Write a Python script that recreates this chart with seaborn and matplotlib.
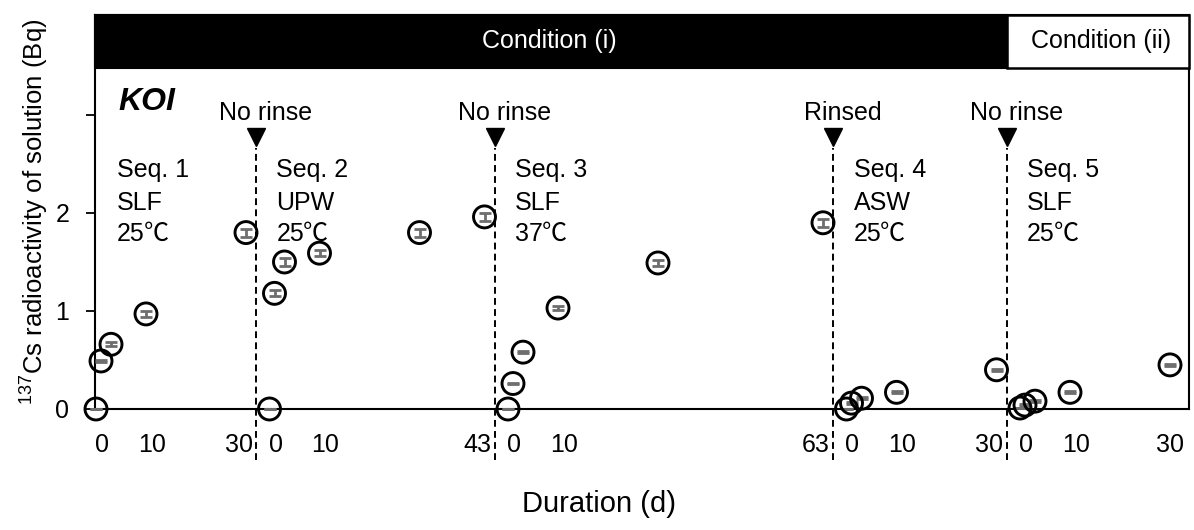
import numpy as np
import pandas as pd
import matplotlib.pyplot as plt
import matplotlib.transforms as mtransforms
from matplotlib.patches import Rectangle
import seaborn as sns

# five sequences, day within sequence vs 137Cs in solution (Bq)
seq_names = ["Seq. 1", "Seq. 2", "Seq. 3", "Seq. 4", "Seq. 5"]
seq_solution = ["SLF", "UPW", "SLF", "ASW", "SLF"]
seq_temp = ["25", "25", "37", "25", "25"]
seq_length = [30, 43, 63, 30, 30]
rinse_labels = ["No rinse", "No rinse", "Rinsed", "No rinse"]

days_1 = [0, 1, 3, 10, 30]
bq_1 = [0.0, 0.49, 0.66, 0.97, 1.80]
err_1 = [0.0, 0.01, 0.02, 0.03, 0.04]

days_2 = [0, 1, 3, 10, 30, 43]
bq_2 = [0.0, 1.18, 1.50, 1.59, 1.80, 1.96]
err_2 = [0.0, 0.03, 0.04, 0.03, 0.04, 0.04]

days_3 = [0, 1, 3, 10, 30, 63]
bq_3 = [0.0, 0.26, 0.58, 1.03, 1.49, 1.90]
err_3 = [0.0, 0.01, 0.01, 0.02, 0.03, 0.04]

days_4 = [0, 1, 3, 10, 30]
bq_4 = [0.0, 0.06, 0.11, 0.17, 0.40]
err_4 = [0.0, 0.01, 0.01, 0.01, 0.01]

days_5 = [0, 1, 3, 10, 30]
bq_5 = [0.01, 0.04, 0.08, 0.17, 0.45]
err_5 = [0.0, 0.01, 0.01, 0.01, 0.01]

all_days = [days_1, days_2, days_3, days_4, days_5]
all_bq = [bq_1, bq_2, bq_3, bq_4, bq_5]
all_err = [err_1, err_2, err_3, err_4, err_5]

# sequences are laid end to end with a small gap between them
gap = 4.7
offsets = np.concatenate([[0], np.cumsum(np.array(seq_length[:-1]) + gap)])
boundaries = offsets[1:] - 2.7

rows = []
for i in range(5):
    for d, b, e in zip(all_days[i], all_bq[i], all_err[i]):
        rows.append({"seq": seq_names[i], "x": offsets[i] + d, "bq": b, "err": e})
df = pd.DataFrame(rows)

sns.set_style("ticks")
plt.rcParams["font.family"] = ["Liberation Sans", "Noto Sans CJK JP", "DejaVu Sans"]
plt.rcParams["mathtext.default"] = "regular"
for key in ["text.color", "axes.labelcolor", "xtick.color", "ytick.color",
            "xtick.labelcolor", "ytick.labelcolor"]:
    plt.rcParams[key] = "black"

fig = plt.figure(figsize=(11.94, 5.30), dpi=100)
ax = fig.add_axes([95 / 1194, 121 / 530, 1094 / 1194, 394 / 530])

ax.errorbar(df["x"], df["bq"], yerr=df["err"], fmt="none", ecolor="#6e6e6e",
            elinewidth=2, capsize=4.5, capthick=2, clip_on=False, zorder=3)
sns.scatterplot(data=df, x="x", y="bq", ax=ax, marker="o", s=250,
                facecolor="none", edgecolor="black", linewidth=2.1,
                clip_on=False, zorder=4, legend=False)

ax.set_xlim(-0.2, 218.6)
ax.set_ylim(0, 4.02)

# dashed separators, arrows and rinse notes
for b, lab in zip(boundaries, rinse_labels):
    ax.plot([b, b], [-0.52, 2.66], ls=(0, (3.5, 2.2)), color="black", lw=1.4,
            clip_on=False, zorder=2)
    ax.plot([b], [2.78], marker="v", ms=13, color="black", zorder=5)
    ax.text(b + 2, 2.95, lab, ha="center", va="baseline", fontsize=18)

# sequence descriptions
text_x = [4.2] + list(offsets[1:] + 1.4)
for i in range(5):
    for yy, s in zip([2.37, 2.03], [seq_names[i], seq_solution[i]]):
        ax.text(text_x[i], yy, s, ha="left", va="baseline", fontsize=18)
    t = ax.text(text_x[i], 1.71, seq_temp[i], ha="left", va="baseline", fontsize=18)
    # full-width degree sign as in the original
    ax.annotate("℃", xy=(1, 0), xycoords=t, xytext=(-1, 0), textcoords="offset points",
                ha="left", va="bottom", fontsize=18, family=["Noto Sans CJK JP"])

ax.text(4.4, 3.05, "KOI", fontsize=23, fontweight="bold", fontstyle="italic",
        ha="left", va="baseline")

# condition bar across the top
trans = mtransforms.blended_transform_factory(ax.transData, ax.transAxes)
bar_y = 0.8655
ax.add_patch(Rectangle((-0.2, bar_y), boundaries[-1] + 0.2, 1 - bar_y, transform=trans,
                       facecolor="black", edgecolor="black", lw=1.5, clip_on=False, zorder=6))
ax.add_patch(Rectangle((boundaries[-1], bar_y), 218.6 - boundaries[-1], 1 - bar_y,
                       transform=trans, facecolor="white", edgecolor="black", lw=1.8,
                       clip_on=False, zorder=6))
ax.text(90.6, 0.933, "Condition (i)", transform=trans, color="white", fontsize=18,
        ha="center", va="center", zorder=7)
ax.text(201.0, 0.933, "Condition (ii)", transform=trans, color="black", fontsize=18,
        ha="center", va="center", zorder=7)

# x tick labels per sequence
tick_pos, tick_lab = [], []
for i in range(5):
    tick_pos += [offsets[i] + 1.2, offsets[i] + 11.2]
    tick_lab += ["0", "10"]
    if i < 4:
        tick_pos.append(boundaries[i] - 3.5)
    else:
        tick_pos.append(offsets[i] + 30)
    tick_lab.append(str(seq_length[i]))
ax.set_xticks(tick_pos)
ax.set_xticklabels(tick_lab, fontsize=18)
ax.tick_params(axis="x", length=0, pad=17)

ax.set_yticks([0, 1, 2, 3])
ax.set_yticklabels(["0", "1", "2", ""], fontsize=18)
ax.tick_params(axis="y", length=6.5, width=1.3, pad=12, direction="out", color="black")

for sp in ["left", "bottom", "right", "top"]:
    ax.spines[sp].set_linewidth(1.5)
    ax.spines[sp].set_color("black")

ax.set_xlabel("Duration (d)", fontsize=21)
ax.xaxis.set_label_coords(0.461, -0.205)
ax.xaxis.label.set_va("top")
ax.set_ylabel("$^{137}$Cs radioactivity of solution (Bq)", fontsize=18.5)
ax.yaxis.set_label_coords(-0.04, 0.5)

fig.savefig("out.png", dpi=100)
